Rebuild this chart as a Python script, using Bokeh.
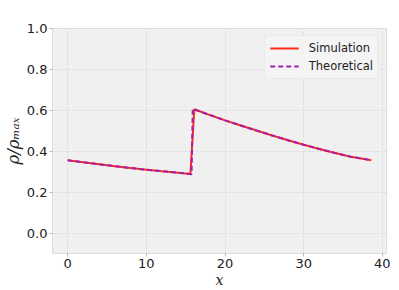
from bokeh.plotting import figure
from bokeh.models import Range1d, Legend, LegendItem, FixedTicker, CustomJSTickFormatter
from bokeh.embed import file_html
from bokeh.resources import INLINE

# Simulation data
x_sim = [0, 2, 4, 6, 8, 10, 12, 14, 15.6, 16.1, 18, 20, 22, 24, 26, 28, 30, 32, 34, 36, 38.6]
y_sim = [0.356, 0.346, 0.336, 0.327, 0.318, 0.310, 0.302, 0.295, 0.289, 0.605, 0.578, 0.551,
         0.526, 0.501, 0.477, 0.454, 0.432, 0.411, 0.391, 0.373, 0.356]

# Theoretical data
x_th = [0, 2, 4, 6, 8, 10, 12, 14, 15.75, 15.9, 18, 20, 22, 24, 26, 28, 30, 32, 34, 36, 38.6]
y_th = [0.356, 0.346, 0.336, 0.327, 0.318, 0.310, 0.302, 0.295, 0.288, 0.607, 0.578, 0.551,
        0.526, 0.501, 0.477, 0.454, 0.432, 0.411, 0.391, 0.373, 0.356]

x_ticks = [0, 10, 20, 30, 40]
y_ticks = [0.0, 0.2, 0.4, 0.6, 0.8, 1.0]

p = figure(width=399, height=290, output_backend="svg", toolbar_location=None,
           x_range=Range1d(-1.93, 40.53), y_range=Range1d(-0.1, 1.0),
           min_border_left=51, min_border_right=13, min_border_top=28, min_border_bottom=37)

p.background_fill_color = "#f0f0f0"
p.border_fill_color = "white"
p.outline_line_color = "#dddddd"
p.outline_line_width = 1

r1 = p.line(x_sim, y_sim, line_color="#ff2a1a", line_width=2)
r2 = p.line(x_th, y_th, line_color="#a020b0", line_width=2, line_dash="5 3")

for ax in (p.xaxis[0], p.yaxis[0]):
    ax.axis_line_color = "#dddddd"
    ax.major_tick_line_color = "#bbbbbb"
    ax.major_tick_out = 3
    ax.major_tick_in = 0
    ax.minor_tick_line_color = None
    ax.major_label_text_font = "DejaVu Sans"
    ax.major_label_text_font_size = "13px"
    ax.major_label_text_color = "#222222"
    ax.axis_label_text_font = "DejaVu Serif"
    ax.axis_label_text_font_style = "italic"
    ax.axis_label_text_font_size = "14px"
    ax.axis_label_text_color = "#222222"
    ax.major_label_standoff = 2
    ax.axis_label_standoff = 1

p.yaxis.axis_label_text_font_size = "16.5px"
p.xaxis.ticker = FixedTicker(ticks=x_ticks)
p.yaxis.ticker = FixedTicker(ticks=y_ticks)
p.yaxis.formatter = CustomJSTickFormatter(code="return tick.toFixed(1);")
p.xaxis.axis_label = "x"
p.yaxis.axis_label = "ρ/ρₘₐₓ"

p.grid.grid_line_color = "#d8d8d8"
p.grid.grid_line_dash = "2 2"
p.grid.grid_line_width = 1

legend = Legend(items=[LegendItem(label="Simulation", renderers=[r1]),
                       LegendItem(label="Theoretical", renderers=[r2])],
                location="top_right")
legend.label_text_font = "DejaVu Sans"
legend.label_text_font_size = "11.5px"
legend.label_text_color = "#222222"
legend.background_fill_color = "#f4f4f4"
legend.background_fill_alpha = 0.9
legend.border_line_color = "#dddddd"
legend.border_radius = 4
legend.glyph_width = 29
legend.label_standoff = 10
legend.spacing = 4
legend.padding = 5
legend.margin = 7
legend.label_height = 14
legend.glyph_height = 14
p.add_layout(legend)

open("out.html", "w").write(file_html(p, INLINE))
